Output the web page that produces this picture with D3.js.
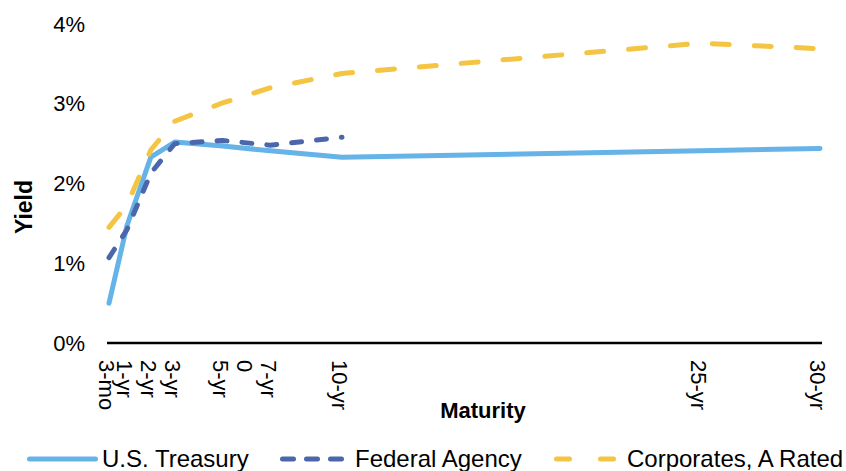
<!DOCTYPE html>
<html>
<head>
<meta charset="utf-8">
<script src="https://cdn.jsdelivr.net/npm/d3@7"></script>
<style>
  body { margin: 0; background: #fff; }
  text { font-family: "Liberation Sans", Arial, sans-serif; fill: #000; }
</style>
</head>
<body>
<div id="vis"></div>
<script>
// Curva de rendimientos por plazo
const MATURITY = [0.25, 1, 2, 3, 5, 7, 10, 25, 30];
const TREASURY = [0.50, 1.47, 2.33, 2.52, 2.47, 2.41, 2.33, 2.41, 2.44];
const AGENCY = [1.07, 1.42, 2.13, 2.50, 2.54, 2.48, 2.58]; // solo hasta 10-yr
const CORPORATE = [1.45, 1.73, 2.42, 2.78, 3.01, 3.20, 3.38, 3.76, 3.69];

const TICK_VALUES = [0.25, 1, 2, 3, 5, 6, 7, 10, 25, 30];
const TICK_LABELS = ["3-mo", "1-yr", "2-yr", "3-yr", "5-yr", "0", "7-yr", "10-yr", "25-yr", "30-yr"];
const Y_TICKS = [0, 1, 2, 3, 4];

const SERIES_NAMES = ["U.S. Treasury", "Federal Agency", "Corporates, A Rated"];

const WIDTH = 846;
const HEIGHT = 471;

const SVG = d3.select("#vis").append("svg").attr("width", WIDTH).attr("height", HEIGHT);

const x = d3.scaleLinear().domain([0.25, 30]).range([109, 820]);
const y = d3.scaleLinear().domain([0, 4]).range([343, 24]);

// Eje Y (solo etiquetas)
SVG.append("g").selectAll("text").data(Y_TICKS).join("text")
  .attr("x", 85).attr("y", d => y(d)).attr("dy", "0.35em")
  .attr("text-anchor", "end").attr("font-size", "22px")
  .text(d => d + "%");

// Eje X
SVG.append("line").attr("x1", 107).attr("x2", 822).attr("y1", y(0)).attr("y2", y(0))
  .attr("stroke", "#000").attr("stroke-width", 2.5);

SVG.append("g").selectAll("text").data(TICK_VALUES).join("text")
  .attr("transform", d => `translate(${x(d) - 2}, 360) rotate(90)`)
  .attr("dy", "0.35em").attr("font-size", "22px")
  .text((d, i) => TICK_LABELS[i]);

// Titulos
SVG.append("text").attr("x", 483).attr("y", 418).attr("text-anchor", "middle")
  .attr("font-size", "22px").attr("font-weight", "bold").text("Maturity");
SVG.append("text").attr("transform", "translate(32, 207) rotate(-90)").attr("text-anchor", "middle")
  .attr("font-size", "23px").attr("font-weight", "bold").text("Yield");

// Lineas
const styles = [
  { color: "#66B3E8", dash: null },
  { color: "#4B66AA", dash: "10,15" },
  { color: "#F4C443", dash: "17,25" }
];
const data = [TREASURY, AGENCY, CORPORATE];

const line = d3.line().x(d => x(d[0])).y(d => y(d[1]));

SVG.append("g").selectAll("path").data(data).join("path")
  .attr("d", vals => line(vals.map((v, i) => [MATURITY[i], v])))
  .attr("fill", "none")
  .attr("stroke", (d, i) => styles[i].color)
  .attr("stroke-width", 5)
  .attr("stroke-linecap", "round")
  .attr("stroke-linejoin", "round")
  .attr("stroke-dasharray", (d, i) => styles[i].dash);

// Leyenda
const legendX = [27, 280, 554];
const legendLen = [71, 65, 63];
const legendTextX = [102, 355, 627];
const lg = SVG.append("g").selectAll("g").data(SERIES_NAMES).join("g");
lg.append("line")
  .attr("x1", (d, i) => legendX[i] + 2.5).attr("x2", (d, i) => legendX[i] + legendLen[i] - 2.5)
  .attr("y1", 459).attr("y2", 459)
  .attr("stroke", (d, i) => styles[i].color).attr("stroke-width", 5)
  .attr("stroke-linecap", "round")
  .attr("stroke-dasharray", (d, i) => i == 1 ? "11,13" : i == 2 ? "13,31" : null);
lg.append("text").attr("x", (d, i) => legendTextX[i]).attr("y", 467)
  .attr("font-size", "24px").text(d => d);
</script>
</body>
</html>
